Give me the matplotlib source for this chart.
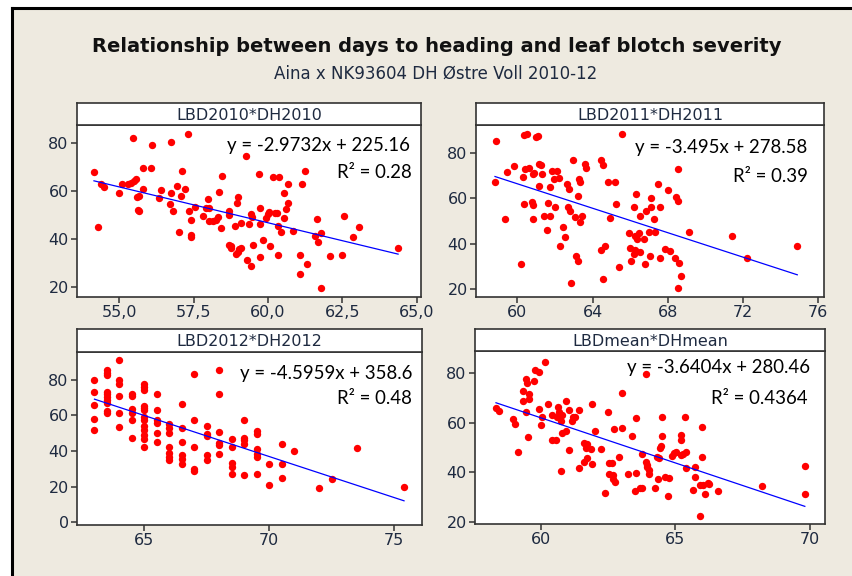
import matplotlib
matplotlib.use("Agg")
import matplotlib.pyplot as plt
import numpy as np

# ─────────────────────────────────────────────
# Datos (DH = días a espigado, LBD = severidad)
# ─────────────────────────────────────────────
dh2010 = [54.15, 54.30, 54.4, 54.5, 55.0, 55.1, 55.3, 55.4, 55.5, 55.55, 55.45, 55.58, 55.66,
          55.62, 55.68, 55.8, 55.8, 56.07, 56.1, 56.35, 56.41, 56.7, 56.75, 56.75, 56.8, 56.93,
          57.0, 57.06, 57.1, 57.2, 57.3, 57.34, 57.4, 57.4, 57.4, 57.55, 57.8, 57.9, 57.99,
          58.03, 58.0, 58.14, 58.25, 58.33, 58.34, 58.44, 58.43, 58.68, 58.7, 58.7, 58.76,
          58.74, 58.92, 58.99, 59.04, 59.1, 58.95, 58.99, 58.9, 59.08, 59.25, 59.3, 59.35,
          59.44, 59.46, 59.48, 59.44, 59.7, 59.73, 59.73, 59.74, 59.82, 59.93, 60.0, 60.04,
          60.07, 60.15, 60.25, 60.31, 60.33, 60.33, 60.38, 60.44, 60.53, 60.55, 60.6, 60.68,
          60.68, 60.83, 61.09, 61.09, 61.13, 61.24, 61.32, 61.59, 61.63, 61.67, 61.78, 61.78,
          62.09, 62.48, 62.56, 62.86, 63.04, 64.37]
lbd2010 = [67.8, 45.0, 62.7, 61.4, 59.1, 62.9, 62.9, 63.1, 64.1, 64.8, 82.1, 57.3, 58.0,
           52.2, 51.8, 60.9, 69.6, 69.6, 78.9, 57.0, 60.4, 54.7, 59.1, 80.1, 51.8, 62.0,
           43.1, 57.9, 68.2, 60.9, 83.7, 51.8, 48.1, 41.8, 40.7, 53.5, 49.4, 53.0, 56.6,
           52.8, 47.5, 47.5, 47.9, 49.0, 59.7, 66.0, 44.5, 51.7, 49.9, 37.6, 36.3,
           37.3, 33.8, 34.8, 35.9, 36.3, 55.1, 57.3, 45.4, 46.8, 74.5, 31.5, 46.3,
           50.3, 49.0, 37.7, 29.0, 67.0, 52.8, 46.1, 32.7, 39.5, 48.8, 50.3, 51.2,
           37.3, 65.9, 50.7, 50.7, 45.6, 33.4, 65.9, 43.1, 48.8, 59.3, 52.3, 54.8,
           62.9, 43.4, 25.5, 33.4, 62.9, 68.2, 29.7, 41.3, 48.2, 39.0, 42.7, 19.9,
           32.9, 33.3, 49.4, 40.9, 45.0, 36.4]

dh2011 = [58.87, 58.81, 59.36, 59.45, 59.82, 60.21, 60.3, 60.37, 60.37, 60.53, 60.43, 60.6,
          60.82, 60.9, 60.8, 60.85, 60.85, 60.97, 61.1, 61.15, 61.24, 61.15, 61.29, 61.43,
          61.56, 61.63, 61.72, 61.72, 61.86, 61.97, 61.98, 62.13, 62.23, 62.29, 62.45, 62.52,
          62.64, 62.71, 62.76, 62.8, 62.83, 62.96, 63.08, 63.12, 63.21, 63.24, 63.26, 63.33,
          63.35, 63.44, 63.58, 63.65, 64.47, 64.57, 64.47, 64.55, 64.64, 64.84, 64.93, 65.17,
          65.23, 65.42, 65.56, 65.95, 66.0, 66.04, 66.18, 66.24, 66.18, 66.29, 66.27, 66.34,
          66.48, 66.54, 66.52, 66.77, 66.75, 66.84, 67.0, 67.05, 67.12, 67.12, 67.28, 67.33,
          67.48, 67.58, 67.58, 67.85, 68.03, 68.11, 68.38, 68.43, 68.52, 68.52, 68.54, 68.61,
          68.72, 69.11, 71.39, 72.19, 74.88]
lbd2011 = [85.3, 67.1, 50.9, 71.7, 74.2, 30.9, 69.7, 57.4, 88.3, 88.7, 73.1, 73.5,
           70.8, 71.3, 58.4, 57.0, 50.9, 87.1, 87.5, 75.1, 74.7, 65.5, 71.0, 52.1,
           46.2, 58.0, 64.9, 52.1, 72.3, 68.5, 56.1, 72.3, 69.1, 38.8, 47.3, 42.9,
           66.4, 56.2, 64.0, 54.4, 22.4, 77.0, 51.8, 34.3, 32.4, 61.2, 68.8, 67.3,
           49.6, 52.2, 75.1, 73.5, 77.0, 74.7, 37.3, 24.3, 38.8, 67.1, 51.5, 67.1,
           57.7, 29.8, 88.7, 44.5, 38.2, 32.1, 56.4, 37.3, 35.2, 61.8, 43.4, 41.9,
           44.8, 52.2, 36.1, 30.9, 42.0, 54.6, 45.0, 34.3, 56.1, 60.3, 50.9, 45.0,
           66.6, 56.1, 33.4, 37.6, 63.6, 36.8, 33.6, 60.8, 58.7, 20.4, 73.1, 31.5,
           25.6, 45.3, 43.4, 33.4, 38.8]

dh2012 = ([63.0] * 5 + [63.5] * 10 + [64.0] * 6 + [64.5] * 6 + [65.0] * 13 + [65.5] * 6
          + [66.0] * 7 + [66.5] * 6 + [67.0] * 5 + [67.5] * 5 + [68.0] * 6 + [68.5] * 5
          + [69.0] * 5 + [69.5] * 6 + [70.0] * 2 + [70.5] * 3 + [71.0] + [72.0] + [72.5]
          + [73.5] + [75.4])
lbd2012 = [79.8, 73.1, 65.6, 57.9, 51.6,
           85.6, 83.7, 82.4, 73.1, 71.8, 70.3, 68.8, 67.1, 62.2, 61.5,
           90.8, 80.0, 77.8, 70.7, 61.5, 53.3,
           72.1, 70.8, 63.7, 61.3, 57.2, 47.5,
           77.8, 75.9, 74.4, 65.4, 64.3, 62.8, 59.1, 57.2, 53.8, 51.6, 48.8, 46.9, 42.2,
           71.8, 62.8, 57.2, 55.7, 50.1, 45.0,
           55.0, 53.1, 50.3, 42.2, 38.9, 36.6, 35.1,
           66.5, 53.1, 44.9, 37.6, 35.7, 32.9,
           83.4, 57.2, 42.2, 30.1, 28.8,
           53.8, 49.7, 48.2, 37.6, 34.8,
           85.6, 72.1, 50.7, 44.5, 43.2, 38.1,
           46.5, 42.2, 33.3, 31.0, 27.3,
           57.6, 47.5, 46.0, 43.7, 26.4,
           51.0, 49.7, 40.9, 38.5, 36.6, 27.3,
           32.9, 20.9,
           44.1, 32.9, 25.0,
           40.0, 19.1, 24.1, 41.7, 20.0]

dhmean = [58.33, 58.45, 58.95, 59.05, 59.16, 59.32, 59.34, 59.43, 59.49, 59.44, 59.54, 59.55,
          59.53, 59.75, 59.78, 59.93, 59.93, 60.05, 60.02, 60.17, 60.25, 60.41, 60.42, 60.56,
          60.61, 60.64, 60.67, 60.73, 60.77, 60.74, 60.78, 60.92, 60.93, 61.03, 61.03, 61.14,
          61.21, 61.26, 61.4, 61.4, 61.6, 61.66, 61.71, 61.62, 61.71, 61.85, 61.91, 61.91,
          62.02, 62.24, 62.39, 62.5, 62.52, 62.65, 62.53, 62.68, 62.73, 62.69, 62.75, 62.91,
          63.0, 63.01, 63.22, 63.39, 63.52, 63.52, 63.51, 63.68, 63.74, 63.75, 63.9, 63.9,
          63.93, 63.95, 64.03, 64.03, 64.24, 64.3, 64.4, 64.42, 64.47, 64.37, 64.51, 64.51,
          64.61, 64.72, 64.77, 64.87, 64.93, 65.04, 65.19, 65.22, 65.22, 65.29, 65.36, 65.39,
          65.41, 65.64, 65.72, 65.74, 65.91, 66.03, 65.99, 65.97, 66.11, 66.2, 66.23, 65.91,
          66.6, 68.2, 69.81, 69.81]
lbdmean = [66.0, 64.9, 61.7, 59.6, 48.1, 69.0, 72.7, 77.8, 76.0, 64.4, 69.5, 71.7,
           54.2, 76.8, 81.3, 80.5, 65.5, 62.5, 59.0, 84.6, 67.5, 63.0, 53.1, 53.1,
           62.5, 66.5, 64.4, 60.6, 63.2, 40.4, 55.8, 68.7, 56.7, 65.2, 49.1, 60.8,
           62.2, 62.5, 65.1, 41.7, 52.0, 49.7, 51.3, 44.3, 45.7, 49.3, 67.5, 43.4,
           56.6, 49.3, 31.8, 64.4, 43.9, 43.9, 39.4, 39.0, 57.7, 37.2, 36.0, 46.1,
           72.2, 57.8, 39.2, 54.7, 62.0, 39.6, 32.4, 33.6, 47.6, 33.6, 79.7, 44.3,
           43.0, 42.1, 39.4, 41.0, 33.6, 46.4, 46.0, 49.9, 50.7, 37.2, 62.5, 54.7,
           38.3, 30.6, 37.9, 46.6, 48.0, 48.4, 47.0, 55.1, 53.1, 47.4, 62.2, 41.7,
           48.4, 32.9, 42.3, 38.0, 34.8, 34.9, 58.2, 46.4, 31.2, 35.8, 35.3, 22.4,
           32.6, 34.5, 42.7, 31.3]

panel_titles = ["LBD2010*DH2010", "LBD2011*DH2011", "LBD2012*DH2012", "LBDmean*DHmean"]
# ecuaciones impresas en cada panel
eq_labels = ["y = -2.9732x + 225.16", "y = -3.495x + 278.58",
             "y = -4.5959x + 358.6", "y = -3.6404x + 280.46"]
r2_labels = ["0.28", "0.39", "0.48", "0.4364"]
# recta azul dibujada (en 2011 no coincide con la ecuación impresa)
line_slopes = [-2.9732, -2.713, -4.5959, -3.6404]
line_intercepts = [225.16, 229.3, 358.6, 280.46]

xticks = [[55, 57.5, 60, 62.5, 65], [60, 64, 68, 72, 76], [65, 70, 75], [60, 65, 70]]
yticks = [[20, 40, 60, 80], [20, 40, 60, 80], [0, 20, 40, 60, 80], [20, 40, 60, 80]]
xlims = [(53.58, 65.14), (57.8, 76.3), (62.3, 76.12), (57.55, 70.56)]
ylims = [(16.0, 87.3), (16.3, 92.6), (-1.5, 95.5), (19.2, 89.0)]

datos = [(dh2010, lbd2010), (dh2011, lbd2011), (dh2012, lbd2012), (dhmean, lbdmean)]

# ─────────────────────────────────────────────
# Figura (posiciones en píxeles de la imagen original)
# ─────────────────────────────────────────────
W, H = 853, 576
fig = plt.figure(figsize=(W / 100, H / 100), dpi=100, facecolor="white")

# fondo beige con borde negro arriba / izquierda
bg = fig.add_axes([12 / W, -0.01, 1.0, 1.01 - 8 / H])
bg.set_facecolor("#EEEAE0")
bg.set_xticks([])
bg.set_yticks([])
for s in ["right", "bottom"]:
    bg.spines[s].set_visible(False)
for s in ["top", "left"]:
    bg.spines[s].set_linewidth(2.2)
    bg.spines[s].set_color("black")

# (izq, der, arriba-área, abajo-área, arriba-tira)
cajas = [(77, 421, 125, 297, 103), (476, 824, 125, 297, 103),
         (77, 422, 352, 525, 329), (475, 825, 351, 524, 329)]
eq_pos = [(410, 145, 412, 172), (807, 148, 808, 176),
          (412, 373, 412, 398), (810, 368, 808, 399)]

ink = "#1E2A40"
eq_font = "Lato"

for i, (x0, x1, y0, y1, ys) in enumerate(cajas):
    ax = fig.add_axes([x0 / W, 1 - y1 / H, (x1 - x0) / W, (y1 - y0) / H])
    ax.set_facecolor("white")
    dh, lbd = datos[i]
    ax.scatter(dh, lbd, s=28, marker="o", color="#FF0000", linewidths=0, zorder=3)
    xr = np.array([min(dh), max(dh)])
    ax.plot(xr, line_slopes[i] * xr + line_intercepts[i], color="#0000FF", lw=0.9, zorder=4)
    ax.set_xlim(*xlims[i])
    ax.set_ylim(*ylims[i])
    ax.set_xticks(xticks[i])
    ax.set_yticks(yticks[i])
    if i == 0:
        ax.set_xticklabels([f"{v:.1f}".replace(".", ",") for v in xticks[i]])
    for s in ax.spines.values():
        s.set_color("#333333")
        s.set_linewidth(1.2)
    ax.tick_params(direction="out", length=4, width=1.1, color="#333333",
                   labelsize=11.5, labelcolor=ink, pad=2)

    # tira con el nombre del panel
    st = fig.add_axes([x0 / W, 1 - y0 / H, (x1 - x0) / W, (y0 - ys) / H])
    st.set_facecolor("white")
    st.set_xticks([])
    st.set_yticks([])
    for s in st.spines.values():
        s.set_color("#333333")
        s.set_linewidth(1.2)
    st.text(0.5, 0.45, panel_titles[i], ha="center", va="center",
            fontsize=11.5, color=ink, transform=st.transAxes)

    ex, ey, rx, ry = eq_pos[i]
    fig.text(ex / W, 1 - ey / H, eq_labels[i], ha="right", va="center",
             fontsize=13.4, family=eq_font, color="black")
    fig.text(rx / W, 1 - ry / H, f"R² = {r2_labels[i]}", ha="right", va="center",
             fontsize=13.4, family=eq_font, color="black")

fig.text(437 / W, 1 - 47 / H,
         "Relationship between days to heading and leaf blotch severity",
         ha="center", va="center", fontsize=14, fontweight="bold", color="#111111")
fig.text(436 / W, 1 - 74 / H, "Aina x NK93604 DH Østre Voll 2010-12",
         ha="center", va="center", fontsize=12, color=ink)

fig.savefig("out.png", dpi=100, facecolor="white")
